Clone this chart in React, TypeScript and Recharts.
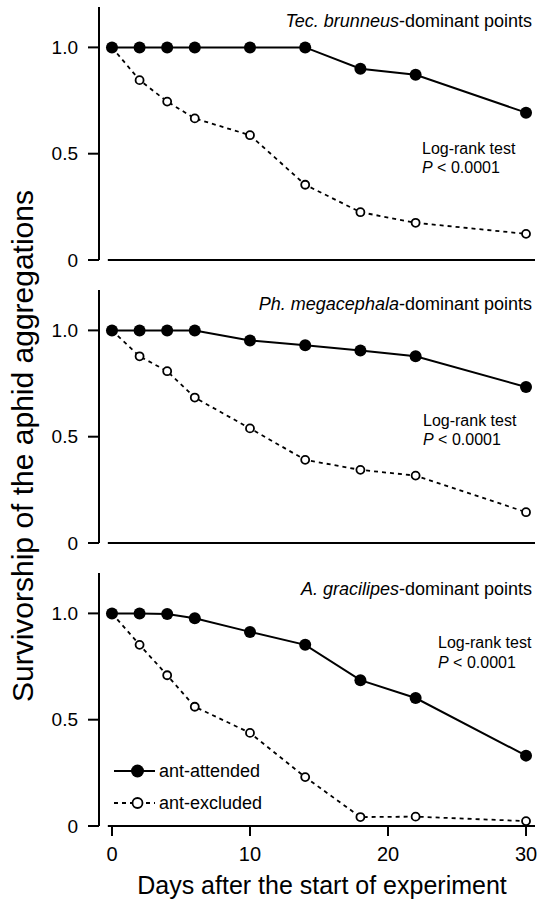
import { LineChart, Line, XAxis, YAxis, ReferenceLine } from 'recharts'

const FONT = '"Liberation Sans", Arial, Helvetica, sans-serif'

// days of observation (shared by all three panels)
const DAYS = [0, 2, 4, 6, 10, 14, 18, 22, 30]

const TEC_ATTENDED = [1, 1, 1, 1, 1, 1, 0.9, 0.871, 0.693]
const TEC_EXCLUDED = [1, 0.846, 0.745, 0.666, 0.587, 0.354, 0.225, 0.175, 0.123]

const PH_ATTENDED = [1, 1, 1, 1, 0.953, 0.93, 0.905, 0.878, 0.734]
const PH_EXCLUDED = [1, 0.878, 0.808, 0.684, 0.539, 0.391, 0.344, 0.317, 0.145]

const AG_ATTENDED = [1, 1, 0.997, 0.977, 0.913, 0.852, 0.686, 0.602, 0.331]
const AG_EXCLUDED = [1, 0.852, 0.709, 0.561, 0.438, 0.23, 0.042, 0.044, 0.023]

const X_TICKS = [0, 10, 20, 30]
const Y_TICKS = [0, 0.5, 1]

const PANELS = [
  { species: 'Tec. brunneus', attended: TEC_ATTENDED, excluded: TEC_EXCLUDED, top: 0, titleY: 26.7, testX: 422, testY: 154 },
  { species: 'Ph. megacephala', attended: PH_ATTENDED, excluded: PH_EXCLUDED, top: 283, titleY: 310, testX: 423, testY: 425.7 },
  { species: 'A. gracilipes', attended: AG_ATTENDED, excluded: AG_EXCLUDED, top: 566, titleY: 595, testX: 438, testY: 648.3 },
]

const AXIS = { stroke: '#000', strokeWidth: 2 }
const TICK_Y = { fontSize: 19, fill: '#000', fontFamily: FONT }
const TICK_X = { fontSize: 20, fill: '#000', fontFamily: FONT }

const filledDot = (p: any) => (
  <circle key={`f${p.index}`} cx={p.cx} cy={p.cy} r={6} fill="#000" stroke="none" />
)
const openDot = (p: any) => (
  <circle key={`o${p.index}`} cx={p.cx} cy={p.cy} r={4} fill="#fff" stroke="#000" strokeWidth={1.8} />
)

function Panel({ attended, excluded, top, showX }: { attended: number[]; excluded: number[]; top: number; showX: boolean }) {
  const data = DAYS.map((d, i) => ({ day: d, attended: attended[i], excluded: excluded[i] }))
  const height = showX ? 336 : 283
  return (
    <div style={{ position: 'absolute', left: 0, top }}>
      <LineChart width={541} height={height} data={data} margin={{ top: 7, right: 6, left: 0, bottom: showX ? 36 : 23 }}>
        <XAxis
          dataKey="day" type="number" domain={[-0.94, 30.65]} ticks={X_TICKS}
          hide={!showX} height={40} allowDataOverflow
          axisLine={false} tickLine={AXIS} tickSize={10} tickMargin={11} tick={TICK_X}
        />
        <YAxis
          type="number" domain={[0, 1.19]} ticks={Y_TICKS} width={99} allowDataOverflow
          axisLine={AXIS} tickLine={AXIS} tickSize={11} tickMargin={10} tick={TICK_Y}
          tickFormatter={(v) => (v === 0 ? '0' : v.toFixed(1))}
        />
        <ReferenceLine segment={[{ x: -0.3, y: 0 }, { x: 30.65, y: 0 }]} stroke="#000" strokeWidth={2} />
        <Line
          dataKey="excluded" stroke="#000" strokeWidth={1.8} strokeDasharray="4 4"
          dot={openDot} activeDot={false} isAnimationActive={false} name="ant-excluded"
        />
        <Line
          dataKey="attended" stroke="#000" strokeWidth={2}
          dot={filledDot} activeDot={false} isAnimationActive={false} name="ant-attended"
        />
      </LineChart>
    </div>
  )
}

export default function App() {
  return (
    <div style={{ position: 'absolute', left: 0, top: 0, width: 541, height: 902, background: '#fff', fontFamily: FONT }}>
      {PANELS.map((p, i) => (
        <Panel key={p.species} attended={p.attended} excluded={p.excluded} top={p.top} showX={i === PANELS.length - 1} />
      ))}
      <svg width={541} height={902} style={{ position: 'absolute', left: 0, top: 0, pointerEvents: 'none' }} fontFamily={FONT} fill="#000">
        {PANELS.map((p) => (
          <g key={p.species}>
            <text x={532} y={p.titleY} fontSize={18} textAnchor="end">
              <tspan fontStyle="italic">{p.species}</tspan>-dominant points
            </text>
            <text x={p.testX} y={p.testY} fontSize={16}>Log-rank test</text>
            <text x={p.testX} y={p.testY + 19.3} fontSize={16}>
              <tspan fontStyle="italic">P</tspan> &lt; 0.0001
            </text>
          </g>
        ))}

        {/* legend */}
        <line x1={114} x2={155} y1={771} y2={771} stroke="#000" strokeWidth={2} />
        <circle cx={137.5} cy={771} r={6.5} fill="#000" />
        <text x={159} y={777} fontSize={18}>ant-attended</text>
        <line x1={114} x2={155} y1={803} y2={803} stroke="#000" strokeWidth={1.8} strokeDasharray="4 4" />
        <circle cx={137.5} cy={803} r={5} fill="#fff" stroke="#000" strokeWidth={1.8} />
        <text x={159} y={809} fontSize={18}>ant-excluded</text>

        <text x={33} y={446} fontSize={30} textAnchor="middle" transform="rotate(-90 33 446)">
          Survivorship of the aphid aggregations
        </text>
        <text x={322} y={894} fontSize={25} textAnchor="middle">Days after the start of experiment</text>
      </svg>
    </div>
  )
}
